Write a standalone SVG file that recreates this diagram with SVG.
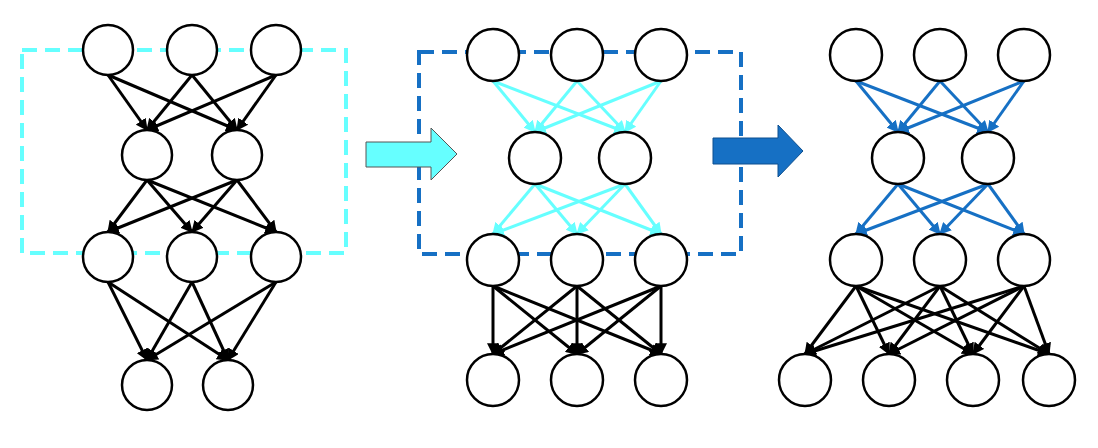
<svg xmlns="http://www.w3.org/2000/svg" width="1098" height="448" viewBox="0 0 1098 448">
<defs>
<marker id="mk" viewBox="0 0 10 10" refX="9" refY="5" markerWidth="4" markerHeight="4" orient="auto" markerUnits="strokeWidth"><path d="M0,0 L10,5 L0,10 z" fill="context-stroke"/></marker>
<marker id="mb" viewBox="0 0 10 10" refX="9" refY="5" markerWidth="4" markerHeight="4" orient="auto" markerUnits="strokeWidth"><path d="M0,0 L10,5 L0,10 z" fill="#000"/></marker>
<marker id="mc" viewBox="0 0 10 10" refX="9" refY="5" markerWidth="4" markerHeight="4" orient="auto" markerUnits="strokeWidth"><path d="M0,0 L10,5 L0,10 z" fill="#6ff"/></marker>
<marker id="md" viewBox="0 0 10 10" refX="9" refY="5" markerWidth="4" markerHeight="4" orient="auto" markerUnits="strokeWidth"><path d="M0,0 L10,5 L0,10 z" fill="#1670c4"/></marker>
</defs>
<style>
circle{fill:#fff;stroke:#000;stroke-width:2.5}
.k line{stroke:#000;stroke-width:3;marker-end:url(#mb)}
.c line{stroke:#6ff;stroke-width:3;marker-end:url(#mc)}
.d line{stroke:#1670c4;stroke-width:3;marker-end:url(#md)}
.box{fill:none;stroke-width:4;stroke-dasharray:15 8}
</style>
<rect class="box" x="22" y="50" width="324" height="203" stroke="#6ff"/>
<rect class="box" x="419" y="52" width="322" height="202" stroke="#1670c4"/>
<g id="connectors">
<g class="k">
<line x1="108" y1="75" x2="147" y2="130"/><line x1="108" y1="75" x2="237" y2="130"/>
<line x1="192" y1="75" x2="147" y2="130"/><line x1="192" y1="75" x2="237" y2="130"/>
<line x1="276" y1="75" x2="147" y2="130"/><line x1="276" y1="75" x2="237" y2="130"/>
<line x1="147" y1="180" x2="108" y2="232"/><line x1="147" y1="180" x2="192" y2="232"/><line x1="147" y1="180" x2="276" y2="232"/>
<line x1="237" y1="180" x2="108" y2="232"/><line x1="237" y1="180" x2="192" y2="232"/><line x1="237" y1="180" x2="276" y2="232"/>
<line x1="108" y1="282" x2="147" y2="360"/><line x1="108" y1="282" x2="228" y2="360"/>
<line x1="192" y1="282" x2="147" y2="360"/><line x1="192" y1="282" x2="228" y2="360"/>
<line x1="276" y1="282" x2="147" y2="360"/><line x1="276" y1="282" x2="228" y2="360"/>
</g>
<g class="c">
<line x1="493" y1="81" x2="535" y2="132"/><line x1="493" y1="81" x2="625" y2="132"/>
<line x1="577" y1="81" x2="535" y2="132"/><line x1="577" y1="81" x2="625" y2="132"/>
<line x1="661" y1="81" x2="535" y2="132"/><line x1="661" y1="81" x2="625" y2="132"/>
<line x1="535" y1="184" x2="493" y2="234"/><line x1="535" y1="184" x2="577" y2="234"/><line x1="535" y1="184" x2="661" y2="234"/>
<line x1="625" y1="184" x2="493" y2="234"/><line x1="625" y1="184" x2="577" y2="234"/><line x1="625" y1="184" x2="661" y2="234"/>
</g>
<g class="k">
<line x1="493" y1="286" x2="493" y2="354"/><line x1="493" y1="286" x2="577" y2="354"/><line x1="493" y1="286" x2="661" y2="354"/>
<line x1="577" y1="286" x2="493" y2="354"/><line x1="577" y1="286" x2="577" y2="354"/><line x1="577" y1="286" x2="661" y2="354"/>
<line x1="661" y1="286" x2="493" y2="354"/><line x1="661" y1="286" x2="577" y2="354"/><line x1="661" y1="286" x2="661" y2="354"/>
</g>
<g class="d">
<line x1="856" y1="81" x2="898" y2="132"/><line x1="856" y1="81" x2="988" y2="132"/>
<line x1="940" y1="81" x2="898" y2="132"/><line x1="940" y1="81" x2="988" y2="132"/>
<line x1="1024" y1="81" x2="898" y2="132"/><line x1="1024" y1="81" x2="988" y2="132"/>
<line x1="898" y1="184" x2="856" y2="234"/><line x1="898" y1="184" x2="940" y2="234"/><line x1="898" y1="184" x2="1024" y2="234"/>
<line x1="988" y1="184" x2="856" y2="234"/><line x1="988" y1="184" x2="940" y2="234"/><line x1="988" y1="184" x2="1024" y2="234"/>
</g>
<g class="k">
<line x1="856" y1="286" x2="805" y2="354"/><line x1="856" y1="286" x2="889" y2="354"/><line x1="856" y1="286" x2="973" y2="354"/><line x1="856" y1="286" x2="1049" y2="354"/>
<line x1="940" y1="286" x2="805" y2="354"/><line x1="940" y1="286" x2="889" y2="354"/><line x1="940" y1="286" x2="973" y2="354"/><line x1="940" y1="286" x2="1049" y2="354"/>
<line x1="1024" y1="286" x2="805" y2="354"/><line x1="1024" y1="286" x2="889" y2="354"/><line x1="1024" y1="286" x2="973" y2="354"/><line x1="1024" y1="286" x2="1049" y2="354"/>
</g>
</g>
<g id="arrow1"><path d="M366,142 H431 V128 L457,154 L431,180 V167 H366 Z" fill="#6ff" stroke="#555" stroke-width="1"/></g>
<g id="arrow2"><path d="M713,138 H778 V125 L803,151 L778,177 V164 H713 Z" fill="#1670c4" stroke="#0d4f8f" stroke-width="1"/></g>
<g id="p1t1"><circle cx="108" cy="50" r="25"/></g><g id="p1t2"><circle cx="192" cy="50" r="25"/></g><g id="p1t3"><circle cx="276" cy="50" r="25"/></g>
<g id="p1m1"><circle cx="147" cy="155" r="25"/></g><g id="p1m2"><circle cx="237" cy="155" r="25"/></g>
<g id="p1h1"><circle cx="108" cy="257" r="25"/></g><g id="p1h2"><circle cx="192" cy="257" r="25"/></g><g id="p1h3"><circle cx="276" cy="257" r="25"/></g>
<g id="p1b1"><circle cx="147" cy="385" r="25"/></g><g id="p1b2"><circle cx="228" cy="385" r="25"/></g>
<g id="p2t1"><circle cx="493" cy="55" r="26"/></g><g id="p2t2"><circle cx="577" cy="55" r="26"/></g><g id="p2t3"><circle cx="661" cy="55" r="26"/></g>
<g id="p2m1"><circle cx="535" cy="158" r="26"/></g><g id="p2m2"><circle cx="625" cy="158" r="26"/></g>
<g id="p2h1"><circle cx="493" cy="260" r="26"/></g><g id="p2h2"><circle cx="577" cy="260" r="26"/></g><g id="p2h3"><circle cx="661" cy="260" r="26"/></g>
<g id="p2b1"><circle cx="493" cy="380" r="26"/></g><g id="p2b2"><circle cx="577" cy="380" r="26"/></g><g id="p2b3"><circle cx="661" cy="380" r="26"/></g>
<g id="p3t1"><circle cx="856" cy="55" r="26"/></g><g id="p3t2"><circle cx="940" cy="55" r="26"/></g><g id="p3t3"><circle cx="1024" cy="55" r="26"/></g>
<g id="p3m1"><circle cx="898" cy="158" r="26"/></g><g id="p3m2"><circle cx="988" cy="158" r="26"/></g>
<g id="p3h1"><circle cx="856" cy="260" r="26"/></g><g id="p3h2"><circle cx="940" cy="260" r="26"/></g><g id="p3h3"><circle cx="1024" cy="260" r="26"/></g>
<g id="p3b1"><circle cx="805" cy="380" r="26"/></g><g id="p3b2"><circle cx="889" cy="380" r="26"/></g><g id="p3b3"><circle cx="973" cy="380" r="26"/></g><g id="p3b4"><circle cx="1049" cy="380" r="26"/></g>
</svg>
